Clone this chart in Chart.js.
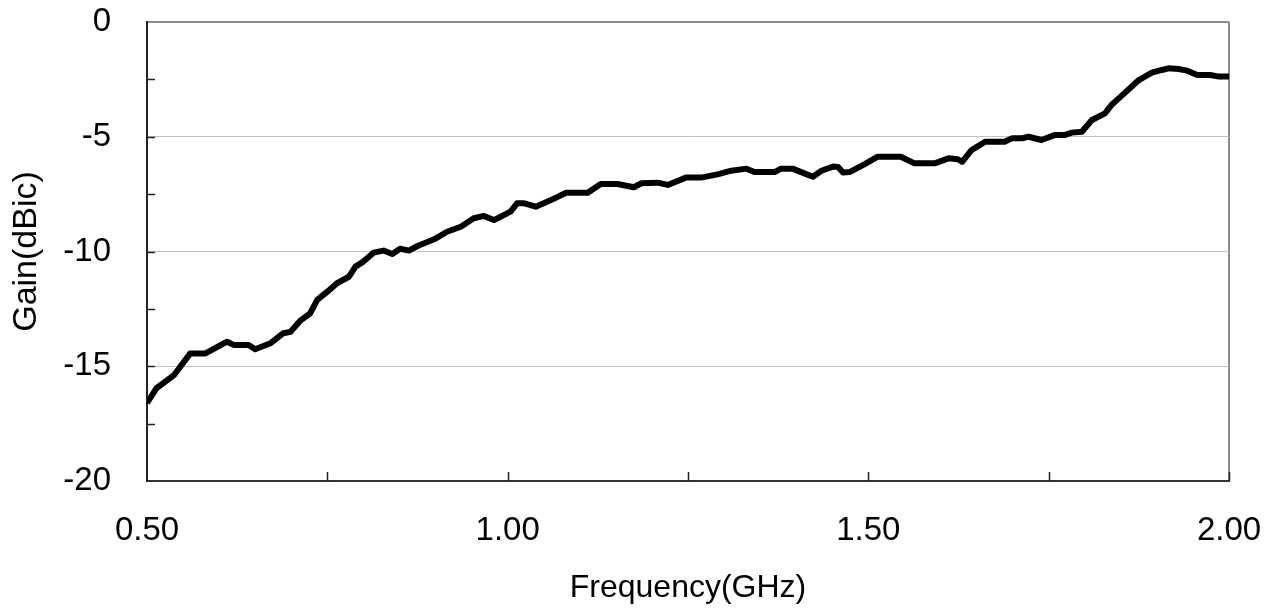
<!DOCTYPE html>
<html>
<head>
<meta charset="utf-8">
<script src="https://cdn.jsdelivr.net/npm/chart.js@4.4.1/dist/chart.umd.min.js"></script>
<style>
  html, body { margin: 0; padding: 0; background: #ffffff; }
  #wrap { width: 1268px; height: 610px; }
</style>
</head>
<body>
<div id="wrap"><canvas id="c" width="1268" height="610"></canvas></div>
<script>
// Frequency (GHz) and gain (dBic)
const frequencies = [
  0.500, 0.513, 0.537, 0.560, 0.581, 0.611, 0.620, 0.641, 0.650, 0.671,
  0.689, 0.699, 0.713, 0.726, 0.736, 0.750, 0.763, 0.780, 0.789, 0.800,
  0.814, 0.828, 0.840, 0.851, 0.863, 0.875, 0.898, 0.916, 0.935, 0.953,
  0.967, 0.981, 1.004, 1.013, 1.023, 1.039, 1.060, 1.081, 1.111, 1.129,
  1.152, 1.175, 1.185, 1.208, 1.222, 1.247, 1.268, 1.291, 1.310, 1.331,
  1.342, 1.370, 1.379, 1.395, 1.407, 1.423, 1.435, 1.451, 1.458, 1.465,
  1.474, 1.495, 1.513, 1.545, 1.564, 1.592, 1.611, 1.624, 1.630, 1.643,
  1.662, 1.689, 1.699, 1.713, 1.722, 1.740, 1.759, 1.773, 1.782, 1.796,
  1.810, 1.828, 1.837, 1.851, 1.875, 1.893, 1.907, 1.916, 1.930, 1.942,
  1.956, 1.974, 1.986, 2.000
];
const gains = [
  -16.60, -15.96, -15.40, -14.44, -14.44, -13.93, -14.07, -14.07, -14.26, -14.00,
  -13.56, -13.50, -13.00, -12.70, -12.11, -11.75, -11.39, -11.10, -10.66, -10.44,
  -10.05, -9.96, -10.11, -9.88, -9.96, -9.76, -9.47, -9.14, -8.92, -8.55,
  -8.45, -8.63, -8.26, -7.90, -7.90, -8.05, -7.76, -7.44, -7.44, -7.06,
  -7.06, -7.20, -7.03, -7.00, -7.10, -6.78, -6.78, -6.64, -6.48, -6.39,
  -6.54, -6.54, -6.39, -6.39, -6.54, -6.74, -6.48, -6.30, -6.32, -6.56,
  -6.54, -6.19, -5.87, -5.87, -6.16, -6.16, -5.94, -5.98, -6.09, -5.58,
  -5.22, -5.22, -5.07, -5.07, -5.00, -5.14, -4.92, -4.92, -4.82, -4.78,
  -4.27, -3.98, -3.62, -3.22, -2.53, -2.21, -2.09, -2.02, -2.05, -2.12,
  -2.31, -2.31, -2.38, -2.38
];
const xRange = [0.5, 2.0];
const xStep = 0.25;
const xLabelEvery = 0.5;
const yRange = [-20, 0];
const yStep = 2.5;
const yLabelEvery = 5;
const xTitle = 'Frequency(GHz)';
const yTitle = 'Gain(dBic)';

const points = frequencies.map((f, i) => ({ x: f, y: gains[i] }));
const isMultiple = (v, m) => Math.abs(v / m - Math.round(v / m)) < 1e-9;

// Excel-style tick marks drawn inside the plot area, positioned by the chart's scales
const innerTicks = {
  id: 'innerTicks',
  beforeDatasetsDraw(chart) {
    const { ctx, chartArea, scales } = chart;
    ctx.save();
    ctx.strokeStyle = '#222';
    ctx.lineWidth = 1.5;
    scales.x.ticks.forEach(t => {
      if (t.value <= xRange[0]) return;
      const px = Math.round(scales.x.getPixelForValue(t.value)) + 0.5;
      ctx.beginPath();
      ctx.moveTo(px, chartArea.bottom);
      ctx.lineTo(px, chartArea.bottom - 9);
      ctx.stroke();
    });
    scales.y.ticks.forEach(t => {
      if (t.value <= yRange[0] || t.value >= yRange[1]) return;
      const py = Math.round(scales.y.getPixelForValue(t.value)) + 0.5;
      ctx.beginPath();
      ctx.moveTo(chartArea.left, py);
      ctx.lineTo(chartArea.left + 8, py);
      ctx.stroke();
    });
    ctx.restore();
  }
};

new Chart(document.getElementById('c'), {
  type: 'line',
  data: {
    datasets: [{
      data: points,
      borderColor: '#000000',
      borderWidth: 6,
      pointRadius: 0,
      tension: 0,
      fill: false,
      borderJoinStyle: 'round',
      borderCapStyle: 'butt'
    }]
  },
  options: {
    responsive: false,
    animation: false,
    devicePixelRatio: 1,
    layout: { padding: { left: 0, right: 39, top: 22, bottom: 0 } },
    plugins: { legend: { display: false }, tooltip: { enabled: false } },
    scales: {
      x: {
        type: 'linear',
        min: xRange[0],
        max: xRange[1],
        afterFit: s => { s.height = 129; s.paddingLeft = 0; s.paddingRight = 0; },
        ticks: {
          stepSize: xStep,
          autoSkip: false,
          maxRotation: 0,
          padding: 30,
          color: '#000',
          font: { family: 'Liberation Sans, Arial, sans-serif', size: 33 },
          callback: v => isMultiple(v, xLabelEvery) ? v.toFixed(2) : ''
        },
        grid: {
          drawTicks: false,
          drawOnChartArea: true,
          lineWidth: 2,
          color: c => (c.tick && Math.abs(c.tick.value - xRange[1]) < 1e-9) ? '#8a8a8a' : 'rgba(0,0,0,0)'
        },
        border: { display: true, color: '#333', width: 2 },
        title: {
          display: true,
          text: xTitle,
          color: '#000',
          font: { family: 'Liberation Sans, Arial, sans-serif', size: 32 },
          padding: { top: 0, bottom: 3 }
        }
      },
      y: {
        type: 'linear',
        min: yRange[0],
        max: yRange[1],
        afterFit: s => { s.width = 147; s.paddingTop = 0; s.paddingBottom = 0; },
        ticks: {
          stepSize: yStep,
          autoSkip: false,
          padding: 36,
          color: '#000',
          font: { family: 'Liberation Sans, Arial, sans-serif', size: 33 },
          callback: v => isMultiple(v, yLabelEvery) ? String(v) : ''
        },
        grid: {
          drawTicks: false,
          lineWidth: c => (c.tick && c.tick.value === yRange[1]) ? 2 : 1,
          color: c => {
            if (!c.tick) return 'rgba(0,0,0,0)';
            const v = c.tick.value;
            if (v === yRange[1]) return '#8a8a8a';
            if (v > yRange[0] && isMultiple(v, yLabelEvery)) return '#c0c0c0';
            return 'rgba(0,0,0,0)';
          }
        },
        border: { display: true, color: '#222', width: 2 },
        title: {
          display: true,
          text: yTitle,
          color: '#000',
          font: { family: 'Liberation Sans, Arial, sans-serif', size: 34 },
          padding: { top: 6, bottom: 0 }
        }
      }
    }
  },
  plugins: [innerTicks]
});
</script>
</body>
</html>
